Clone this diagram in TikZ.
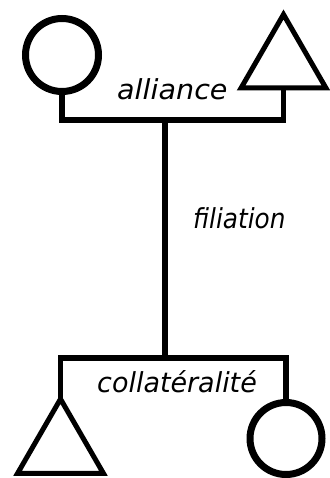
\documentclass[tikz,border=0pt]{standalone}
\usepackage{fontspec}
\setmainfont{DejaVu Sans}
\usetikzlibrary{shapes.geometric}
\tikzset{
  person/.style={draw=black, fill=white, inner sep=0pt, outer sep=0pt},
  fem/.style={person, circle, line width=7pt},
  masc/.style={person, regular polygon, regular polygon sides=3, line width=5pt},
  link/.style={line width=5.5pt},
  filia/.style={line width=6.5pt, line cap=rect},
  lbl/.style={inner sep=0pt, anchor=base west, font=\fontsize{27.5}{30}\selectfont\itshape}
}
\begin{document}
\begin{tikzpicture}[x=1pt, y=-1pt]
\useasboundingbox (0,0) rectangle (329,478);
% top generation
\node[fem, minimum size=73pt] (c1) at (62,55) {};
\node[masc, minimum size=98pt] (t1) at (283.5,63.5) {};
% bottom generation
\node[masc, minimum size=99pt] (t2) at (60.5,448.5) {};
\node[fem, minimum size=72pt] (c2) at (286,438.5) {};
% joins
\coordinate (top) at (165,120);
\coordinate (bot) at (165,358);
\draw[link] (c1.south) |- (top) -| (t1.south);
\draw[link] (t2.corner 1) |- (bot) -| (c2.north);
\draw[filia] (top) -- (bot);
% labels
\node[lbl] (la) at (117,100) {\scalebox{1.04}[1]{alliance}};
\node[lbl] (lf) at (193,228) {\scalebox{0.9}[1]{filiation}};
\node[lbl] (lc) at (97,392) {\scalebox{0.98}[1]{collatéralité}};
\end{tikzpicture}
\end{document}
